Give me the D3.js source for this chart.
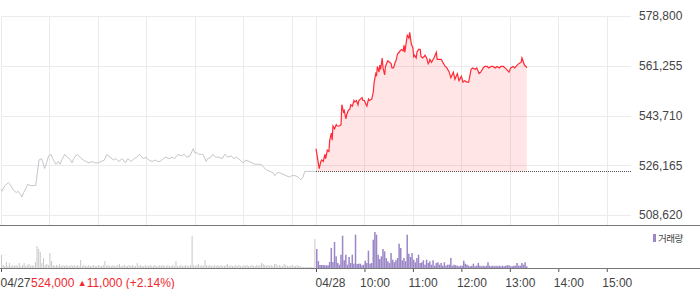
<!DOCTYPE html>
<html>
<head>
<meta charset="utf-8">
<script src="https://cdn.jsdelivr.net/npm/d3@7"></script>
<style>
  body { margin: 0; background: #fff; }
  svg { display: block; font-family: "Liberation Sans", Arial, sans-serif; }
</style>
</head>
<body>
<svg id="chart" width="700" height="289"></svg>
<script>
// minutes after 09:00, 04/27 session
const prevMinutes = [0,1,5,9,11,15,19,21,24,26,28,31,33,36,43,45,47,50,52,54,
  57,59,62,64,68,71,73,76,79,82,85,88,90,94,98,102,105,109,113,116,
  120,124,128,131,135,139,142,146,150,154,157,161,165,168,172,176,180,183,187,191,
  194,197,201,204,208,212,215,219,223,227,230,234,238,240,243,245,248,250,254,256,
  260,262,266,270,274,277,281,285,288,292,296,300,303,307,311,314,318,322,325,329,
  333,337,339,342,345,349,353,357,360,364,368,371,374,376,380,384,390];
const prevPrices = [517500,517000,519000,520000,519500,517500,516500,517000,516000,515000,
  516500,518000,519500,519000,519000,523500,528000,528500,527000,525000,
  527500,529500,530000,528500,526500,527500,526500,528500,530000,529000,
  528500,527000,528500,530000,529000,528000,527500,527000,527500,527000,
  527000,527500,528000,530000,529000,528000,528500,527500,528500,527000,
  528500,527500,528500,529000,530000,528500,529000,528000,527500,528000,
  527500,527500,528500,529000,528500,529000,528500,530000,529500,530000,
  529000,529500,532000,530500,530500,530000,530000,530000,527500,528500,
  529000,530000,529000,529000,528500,530000,529000,529500,528500,529000,
  528000,527000,528000,527500,527000,526500,526500,526500,525500,524500,
  524000,523500,522500,523500,523500,523000,522500,522000,522500,522500,
  522000,521000,522000,524000,524000,524000,524000];

// minutes after 09:00, 04/28 session
const todayMinutes = [0,2,4,6,7,9,11,12,14,16,17,19,20,21,23,25,26,29,31,32,
  34,35,37,38,40,42,43,45,47,48,50,52,53,55,57,58,60,62,63,65,
  66,69,71,72,74,75,76,78,79,80,82,83,85,86,88,89,91,93,94,96,
  98,99,101,103,104,106,108,109,110,112,113,115,116,117,118,120,121,122,124,125,
  127,129,130,132,134,135,137,139,140,141,143,146,149,150,152,155,157,160,162,165,
  167,170,172,175,177,180,182,184,187,189,192,194,197,199,202,204,207,209,212,214,
  217,219,222,224,227,229,232,234,236,239,241,244,246,249,251,254,255,258,260,261];
const todayPrices = [532000,528500,525000,527500,528000,527500,530000,528500,531500,531000,
  535000,537500,535000,540000,539000,540500,540000,540000,540500,547500,
  545000,545500,542500,544000,545500,546000,547500,547000,549000,548500,
  549000,547500,549000,549500,550000,549000,549000,547500,547000,549500,
  549000,549500,552000,555500,558500,558000,561000,559000,561500,560000,
  564000,560500,558000,561000,562500,563000,562500,562000,560500,560500,
  562500,563000,565500,566000,566500,567000,566500,568500,566000,570000,
  572000,571000,573000,571000,569000,567500,564500,565000,564000,566000,
  567000,567000,564500,564000,564500,565000,564000,562000,562500,563500,
  562500,564000,566000,563500,563500,563500,562500,561000,560500,559000,
  557000,559000,556500,558500,556000,557500,555500,556000,555500,555500,
  560000,560500,560000,560500,558500,559000,560500,561000,561000,560500,
  561000,561000,560500,561000,560500,561000,561000,560500,560000,559000,
  560500,561000,560500,561500,562000,562500,564000,561500,561000,560500];

// volume per 2-minute bucket
const prevVolume = [1300,300,200,600,200,500,200,300,200,300,200,500,200,300,500,200,300,400,200,300,
  200,600,2200,1900,1600,500,1000,300,400,300,1500,700,300,200,300,200,400,200,300,200,
  300,200,200,300,200,300,200,300,200,800,200,300,200,200,300,200,200,300,200,200,
  300,200,200,300,700,200,300,200,200,300,200,200,300,400,200,200,300,200,200,300,
  200,300,200,200,500,200,300,200,200,300,200,200,300,200,200,300,200,200,300,200,
  300,200,200,300,200,200,300,200,700,200,200,300,200,200,300,200,200,300,3200,300,
  200,300,400,200,300,200,800,300,200,300,200,200,300,200,300,200,300,200,200,300,
  400,200,300,200,200,300,200,300,200,200,300,200,300,200,200,300,200,200,300,200,
  300,500,400,300,200,300,200,300,200,400,400,200,300,200,200,400,300,200,200,200,
  300,200,200,300,200,200,100,100,100,100,100,100,100,100,2900];
const todayVolume = [1900,700,300,300,300,270,270,270,600,2000,600,2600,1170,500,330,1330,3230,770,1330,330,
  1100,500,1330,430,3330,400,430,430,270,330,730,500,1730,430,500,2830,3600,3330,1330,900,
  1170,1900,1670,1000,670,500,1500,830,570,770,1000,2430,2000,770,1000,670,3330,1430,1100,1500,
  830,570,1000,1330,500,570,770,330,830,500,670,330,770,230,500,570,330,500,230,570,
  230,330,330,1000,230,330,270,230,170,230,230,730,430,330,230,170,230,430,170,230,
  500,230,170,230,170,230,570,230,170,230,170,230,170,230,170,230,170,230,270,270,
  170,170,230,230,500,230,230,500,330,570,170];

const prevClose = 524000;
const priceTicks = [508620, 526165, 543710, 561255, 578800];
const gridMinutes = [0,60,120,180,240,300,360,390,450,510,570,630,690,750];
const xTickMinutes = [0,390,450,510,570,630,690,750];
const xTickLabels = ["04/27","04/28","10:00","11:00","12:00","13:00","14:00","15:00"];

const svg = d3.select("#chart");

const x = d3.scaleLinear().domain([0, 780]).range([1, 631]);
const y = d3.scaleLinear().domain([508620, 578800]).range([215, 16]);
const yVol = d3.scaleLinear().domain([0, 4200]).range([268, 226]);

// grid
svg.append("g")
  .selectAll("line")
  .data(priceTicks)
  .enter().append("line")
    .attr("x1", 1).attr("x2", 631)
    .attr("y1", d => Math.round(y(d)) + 0.5)
    .attr("y2", d => Math.round(y(d)) + 0.5)
    .attr("stroke", "#ebebeb");

svg.append("g")
  .selectAll("line")
  .data(gridMinutes)
  .enter().append("line")
    .attr("x1", d => Math.round(x(d)) + 0.5)
    .attr("x2", d => Math.round(x(d)) + 0.5)
    .attr("y1", 16).attr("y2", 225)
    .attr("stroke", "#ebebeb");

// previous day line
const prevData = prevMinutes.map((m, i) => [m, prevPrices[i]]);
const todayData = todayMinutes.map((m, i) => [m + 390, todayPrices[i]]);

svg.append("path")
  .datum(prevData)
  .attr("fill", "none")
  .attr("stroke", "#c6c6cc")
  .attr("stroke-width", 1)
  .attr("d", d3.line().x(d => x(d[0])).y(d => y(d[1])));

// base (previous close) dotted line
svg.append("line")
  .attr("x1", x(390)).attr("x2", x(780))
  .attr("y1", Math.round(y(prevClose)) + 0.5)
  .attr("y2", Math.round(y(prevClose)) + 0.5)
  .attr("stroke", "#555")
  .attr("stroke-dasharray", "1,1");

// today area + line
svg.append("path")
  .datum(todayData)
  .attr("fill", "#ff0000")
  .attr("fill-opacity", 0.1)
  .attr("d", d3.area().x(d => x(d[0])).y0(y(prevClose)).y1(d => y(d[1])));

svg.append("path")
  .datum(todayData)
  .attr("fill", "none")
  .attr("stroke", "#ff2a36")
  .attr("stroke-width", 1.2)
  .attr("d", d3.line().x(d => x(d[0])).y(d => y(d[1])));

// panel borders
svg.append("line")
  .attr("x1", 0).attr("x2", 700).attr("y1", 225.5).attr("y2", 225.5)
  .attr("stroke", "#777");

// volume bars
svg.append("g")
  .selectAll("rect")
  .data(prevVolume)
  .enter().append("rect")
    .attr("x", (d, i) => x(i * 2))
    .attr("y", d => yVol(d))
    .attr("width", 1)
    .attr("height", d => 268 - yVol(d))
    .attr("fill", "#c8c8cc");

svg.append("g")
  .selectAll("rect")
  .data(todayVolume)
  .enter().append("rect")
    .attr("x", (d, i) => x(390 + i * 2))
    .attr("y", d => yVol(d))
    .attr("width", 1.5)
    .attr("height", d => 268 - yVol(d))
    .attr("fill", "#9b86c7");

// axes
const xAxis = svg.append("g")
  .attr("transform", "translate(0,268)")
  .call(d3.axisBottom(x)
    .tickValues(xTickMinutes)
    .tickSize(4)
    .tickPadding(6)
    .tickFormat((d, i) => xTickLabels[i]));
xAxis.select(".domain").remove();
xAxis.selectAll(".tick line").attr("stroke", "#555");
xAxis.selectAll(".tick text")
  .attr("fill", "#444")
  .attr("font-size", 12)
  .attr("font-family", "Liberation Sans, Arial, sans-serif")
  .attr("text-anchor", "start")
  .attr("x", (d, i) => i < 2 ? -1 : -5);

svg.append("line")
  .attr("x1", 0).attr("x2", 700).attr("y1", 268.5).attr("y2", 268.5)
  .attr("stroke", "#777");

const yAxis = svg.append("g")
  .attr("transform", "translate(631,0)")
  .call(d3.axisRight(y)
    .tickValues(priceTicks)
    .tickSize(0)
    .tickPadding(8)
    .tickFormat(d3.format(",")));
yAxis.select(".domain").remove();
yAxis.selectAll(".tick text")
  .attr("fill", "#444")
  .attr("font-size", 12)
  .attr("font-family", "Liberation Sans, Arial, sans-serif");

// current price info
const info = svg.append("text")
  .attr("x", 31).attr("y", 286.5)
  .attr("font-size", 12)
  .attr("fill", "#f0282d");
info.append("tspan").text("524,000 ");
info.append("tspan").attr("font-size", 9).attr("dy", -0.5).text("▲");
info.append("tspan").attr("dy", 0.5).text("11,000 (+2.14%)");

// legend
svg.append("rect")
  .attr("x", 653).attr("y", 234)
  .attr("width", 3).attr("height", 8)
  .attr("fill", "#9b86c7");
svg.append("text")
  .attr("x", 658).attr("y", 242)
  .attr("font-size", 9.5)
  .attr("letter-spacing", -0.5)
  .attr("font-family", "Noto Sans CJK KR, sans-serif")
  .attr("fill", "#444")
  .text("거래량");
</script>
</body>
</html>
